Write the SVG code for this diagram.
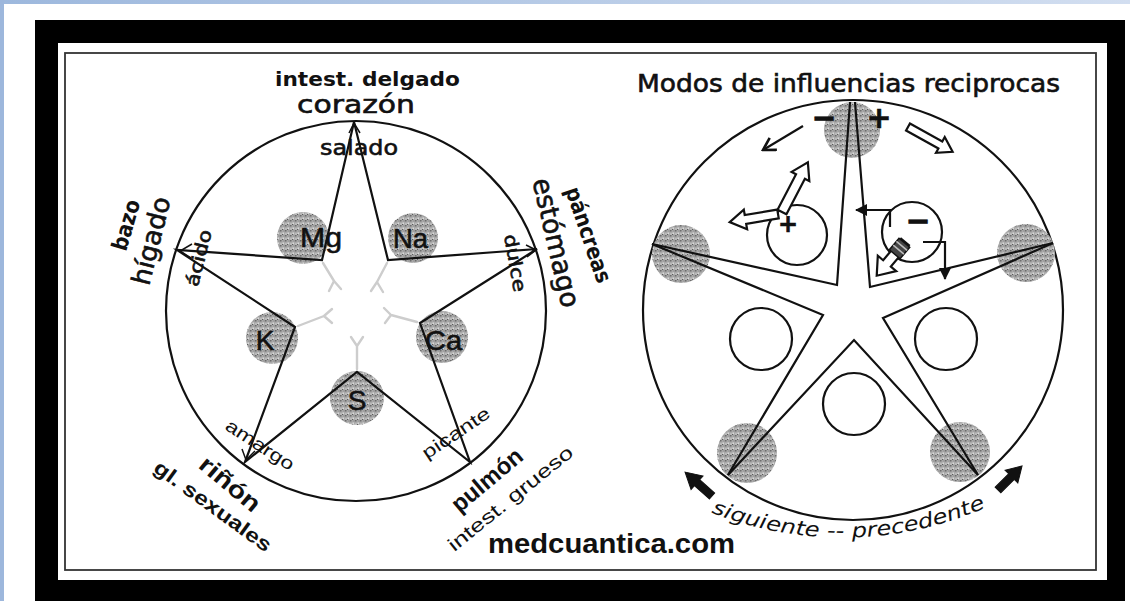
<svg xmlns="http://www.w3.org/2000/svg" width="1130" height="601" viewBox="0 0 1130 601">
<defs>
<linearGradient id="topg" x1="0" x2="1" y1="0" y2="0"><stop offset="0" stop-color="#9db8dd"/><stop offset="1" stop-color="#d2def0"/></linearGradient>
<pattern id="stip" width="5" height="5" patternUnits="userSpaceOnUse">
<rect width="5" height="5" fill="#a9a9a9"/>
<rect x="0" y="0" width="1.5" height="1.5" fill="#6c6c6c"/>
<rect x="2.5" y="2.5" width="1.5" height="1.5" fill="#dadada"/>
<rect x="3.5" y="0.5" width="1" height="1" fill="#7e7e7e"/>
<rect x="0.5" y="3.5" width="1" height="1" fill="#e8e8e8"/>
<rect x="2" y="4" width="1" height="1" fill="#5c5c5c"/>
</pattern>
<marker id="vhead" markerUnits="userSpaceOnUse" viewBox="0 0 16 16" refX="14" refY="8" markerWidth="16" markerHeight="16" orient="auto">
<path d="M2,1 L14,8 L2,15" fill="none" stroke="#111" stroke-width="2.6"/>
</marker>
<marker id="fhead" markerUnits="userSpaceOnUse" viewBox="0 0 12 12" refX="11" refY="6" markerWidth="12" markerHeight="12" orient="auto">
<path d="M0,0 L12,6 L0,12 Z" fill="#111"/>
</marker>
<style>
.ln{fill:none;stroke:#111;stroke-width:2.2;stroke-linejoin:miter}
.thin{fill:none;stroke:#111;stroke-width:1.5}
.gray{fill:url(#stip)}
.c{font-family:"DejaVu Sans","Liberation Sans",sans-serif;fill:#111}
.a{font-family:"Liberation Sans",Arial,sans-serif;fill:#111}
.b{font-weight:bold}
.s{stroke:#111;stroke-width:0.6}
.wisp{fill:none;stroke:#cdcdcd;stroke-width:2.4;stroke-linecap:round}
.hollow{fill:#fff;stroke:#111;stroke-width:2.2;stroke-linejoin:miter}
.solid{fill:#111;stroke:#111;stroke-width:1}
</style>
</defs>

<rect width="1130" height="601" fill="#fff"/>
<rect x="0" y="0" width="1130" height="4" fill="url(#topg)"/>
<rect x="0" y="0" width="4" height="601" fill="#9db7dc"/>

<g id="frame">
<rect x="35" y="20" width="1090" height="581" fill="#000"/>
<rect x="58" y="43" width="1049" height="537" fill="#fff"/>
<rect x="65" y="53" width="1031" height="517" fill="none" stroke="#333" stroke-width="1.8"/>
</g>

<!-- LEFT DIAGRAM -->
<g id="left-circle"><circle cx="356" cy="311" r="190" class="ln"/></g>

<g id="node-mg"><circle cx="303" cy="238" r="26" class="gray"/></g>
<g id="node-na"><circle cx="413" cy="238" r="25" class="gray"/></g>
<g id="node-k"><circle cx="272" cy="338" r="26" class="gray"/></g>
<g id="node-ca"><circle cx="442" cy="337" r="26" class="gray"/></g>
<g id="node-s"><circle cx="357" cy="398" r="27" class="gray"/></g>

<g id="center-wisps" class="wisp">
<path d="M323,263 L334,281 M334,281 L329,291 M334,281 L341,289"/>
<path d="M387,263 L377,282 M377,282 L371,291 M377,282 L383,292"/>
<path d="M298,326 L324,316 M324,316 L332,309 M324,316 L332,323"/>
<path d="M417,322 L391,315 M391,315 L384,308 M391,315 L385,323"/>
<path d="M357,369 L357,346 M357,346 L351,337 M357,346 L363,337"/>
</g>

<g id="left-star">
<polygon class="ln" points="354,122 322,260 177,250 295,327 245,462 357,372 470,462 420,323 537,249 388,260"/>
<path class="thin" d="M192,244 L180,251 L191,258"/>
<path class="thin" d="M526,245 L536,250 L527,257"/>
<path class="thin" d="M242,449 L246,460 L255,451"/>
<path class="thin" d="M349,133 L354,123 L360,133"/>
</g>

<g id="labels-elements">
<text class="a s" x="300" y="247" font-size="28" textLength="42" lengthAdjust="spacingAndGlyphs">Mg</text>
<text class="a s" x="393" y="248" font-size="28" textLength="35" lengthAdjust="spacingAndGlyphs">Na</text>
<text class="a s" x="265" y="350" font-size="28" text-anchor="middle">K</text>
<text class="a s" x="425" y="350" font-size="28" textLength="37" lengthAdjust="spacingAndGlyphs">Ca</text>
<text class="a s" x="357" y="410" font-size="28" text-anchor="middle">S</text>
</g>

<g id="label-top">
<text class="c b" x="275" y="86" font-size="20" textLength="185" lengthAdjust="spacingAndGlyphs">intest. delgado</text>
<text class="c s" x="297" y="113" font-size="25" stroke-width="0.9" textLength="118" lengthAdjust="spacingAndGlyphs">corazón</text>
<text class="c s" x="320" y="155" font-size="21" stroke-width="0.8" textLength="78" lengthAdjust="spacingAndGlyphs">salado</text>
</g>

<g id="label-left">
<text class="c b" transform="translate(126,225) rotate(-74)" x="0" y="7.5" font-size="22" text-anchor="middle" textLength="52" lengthAdjust="spacingAndGlyphs">bazo</text>
<text class="c s" transform="translate(152,241) rotate(-76)" x="0" y="8" font-size="26" stroke-width="0.8" text-anchor="middle" textLength="90" lengthAdjust="spacingAndGlyphs">hígado</text>
<text class="c s" transform="translate(199,258) rotate(-76)" x="0" y="6" font-size="18" text-anchor="middle" textLength="58" lengthAdjust="spacingAndGlyphs">ácido</text>
</g>

<g id="label-right">
<text class="c s" transform="translate(515,263) rotate(80)" x="0" y="6" font-size="18" text-anchor="middle" textLength="58" lengthAdjust="spacingAndGlyphs">dulce</text>
<text class="c s" transform="translate(555,243) rotate(77)" x="0" y="8" font-size="27" stroke-width="0.8" text-anchor="middle" textLength="132" lengthAdjust="spacingAndGlyphs">estómago</text>
<text class="c b" transform="translate(588,235) rotate(71)" x="0" y="7" font-size="22" text-anchor="middle" textLength="100" lengthAdjust="spacingAndGlyphs">páncreas</text>
</g>

<g id="label-bottom-left">
<text class="a" transform="translate(260,445) rotate(33)" x="0" y="6" font-size="18" text-anchor="middle" textLength="78" lengthAdjust="spacingAndGlyphs">amargo</text>
<text class="a b" transform="translate(230,484) rotate(40)" x="0" y="8" font-size="24" text-anchor="middle" textLength="72" lengthAdjust="spacingAndGlyphs">riñón</text>
<text class="a b" transform="translate(213,506) rotate(36)" x="0" y="7" font-size="20" text-anchor="middle" textLength="140" lengthAdjust="spacingAndGlyphs">gl. sexuales</text>
</g>

<g id="label-bottom-right">
<text class="a" transform="translate(456,433) rotate(-34)" x="0" y="6" font-size="18" text-anchor="middle" textLength="78" lengthAdjust="spacingAndGlyphs">picante</text>
<text class="a b" transform="translate(487,480) rotate(-40)" x="0" y="8" font-size="24" text-anchor="middle" textLength="85" lengthAdjust="spacingAndGlyphs">pulmón</text>
<text class="a" transform="translate(510,498) rotate(-39)" x="0" y="7" font-size="19" text-anchor="middle" textLength="155" lengthAdjust="spacingAndGlyphs">intest. grueso</text>
</g>

<g id="site"><text class="a b" x="488" y="553" font-size="28" textLength="247" lengthAdjust="spacingAndGlyphs">medcuantica.com</text></g>

<!-- RIGHT DIAGRAM -->
<g id="title"><text class="c s" x="637" y="92" font-size="24" stroke-width="0.5" textLength="423" lengthAdjust="spacingAndGlyphs">Modos de influencias reciprocas</text></g>

<g id="right-circle"><circle cx="853" cy="310" r="210" class="ln"/></g>

<g id="outer-top"><circle cx="852" cy="130" r="28" class="gray"/></g>
<g id="outer-left"><circle cx="681" cy="254" r="29" class="gray"/></g>
<g id="outer-right"><circle cx="1026" cy="253" r="29" class="gray"/></g>
<g id="outer-bl"><circle cx="747" cy="453" r="30" class="gray"/></g>
<g id="outer-br"><circle cx="960" cy="452" r="30" class="gray"/></g>

<g id="right-star" class="ln">
<path d="M652,244 L837,285 L850,102"/>
<path d="M855,102 L870,287 L1053,243"/>
<path d="M1053,243 L883,318 L978,475"/>
<path d="M978,475 L854,340 L728,475"/>
<path d="M728,475 L823,315 L652,244"/>
</g>

<g id="sector-plus"><circle cx="797" cy="235" r="30" class="ln"/><text class="c b s" x="788" y="232" font-size="24" stroke-width="1" text-anchor="middle">+</text></g>
<g id="sector-minus"><circle cx="912" cy="232" r="30" class="ln"/><text class="c b s" x="918" y="231" font-size="30" stroke-width="1.4" text-anchor="middle">−</text></g>
<g id="sector-left"><circle cx="761" cy="339" r="31" class="ln"/></g>
<g id="sector-right"><circle cx="946" cy="339" r="31" class="ln"/></g>
<g id="sector-bottom"><circle cx="854" cy="404" r="31" class="ln"/></g>

<g id="signs-top">
<text class="c b s" x="824" y="128" font-size="30" stroke-width="1.2" text-anchor="middle">−</text>
<text class="c b s" x="879" y="128" font-size="30" stroke-width="1" text-anchor="middle">+</text>
</g>

<g id="connectors">
<line x1="803" y1="126" x2="763" y2="150" class="ln" stroke-width="2.6" marker-end="url(#vhead)"/>
<path class="hollow" transform="translate(908,127) rotate(29)" d="M0,-4 H37 V-9 L51,0 L37,9 V4 H0 Z"/>
<path class="hollow" transform="translate(782,212) rotate(-62.5)" d="M0,-5 H40 V-10 L56,0 L40,10 V5 H0 Z"/>
<path class="hollow" transform="translate(778,214) rotate(170.5)" d="M0,-4.5 H33 V-10 L49,0 L33,10 V4.5 H0 Z"/>
<g transform="translate(905,242) rotate(130)">
<path class="hollow" d="M0,-5 H28 V-12 L44,0 L28,12 V5 H0 Z"/>
<rect x="1" y="-7" width="15" height="14" fill="#444" stroke="#111" stroke-width="1.5"/>
<path d="M5,-7 V7 M10,-7 V7" stroke="#bbb" stroke-width="1.6"/>
</g>
<path class="ln" d="M890,227 V210 H856" stroke-width="2.4" marker-end="url(#fhead)"/>
<path class="ln" d="M923,242 H945 V279" stroke-width="2.4" marker-end="url(#fhead)"/>
<path class="solid" transform="translate(712,496) rotate(221.6)" d="M0,-4 H20 V-9 L36,0 L20,9 V4 H0 Z"/>
<path class="solid" transform="translate(998,490) rotate(-45)" d="M0,-4 H19 V-9 L34,0 L19,9 V4 H0 Z"/>
</g>

<g id="arc-label">
<path id="arcp" d="M700,508 A358,358 0 0 0 1002,500" fill="none"/>
<text class="c" font-size="20" font-style="italic"><textPath href="#arcp" startOffset="12" textLength="282" lengthAdjust="spacingAndGlyphs">siguiente -- precedente</textPath></text>
</g>
</svg>
